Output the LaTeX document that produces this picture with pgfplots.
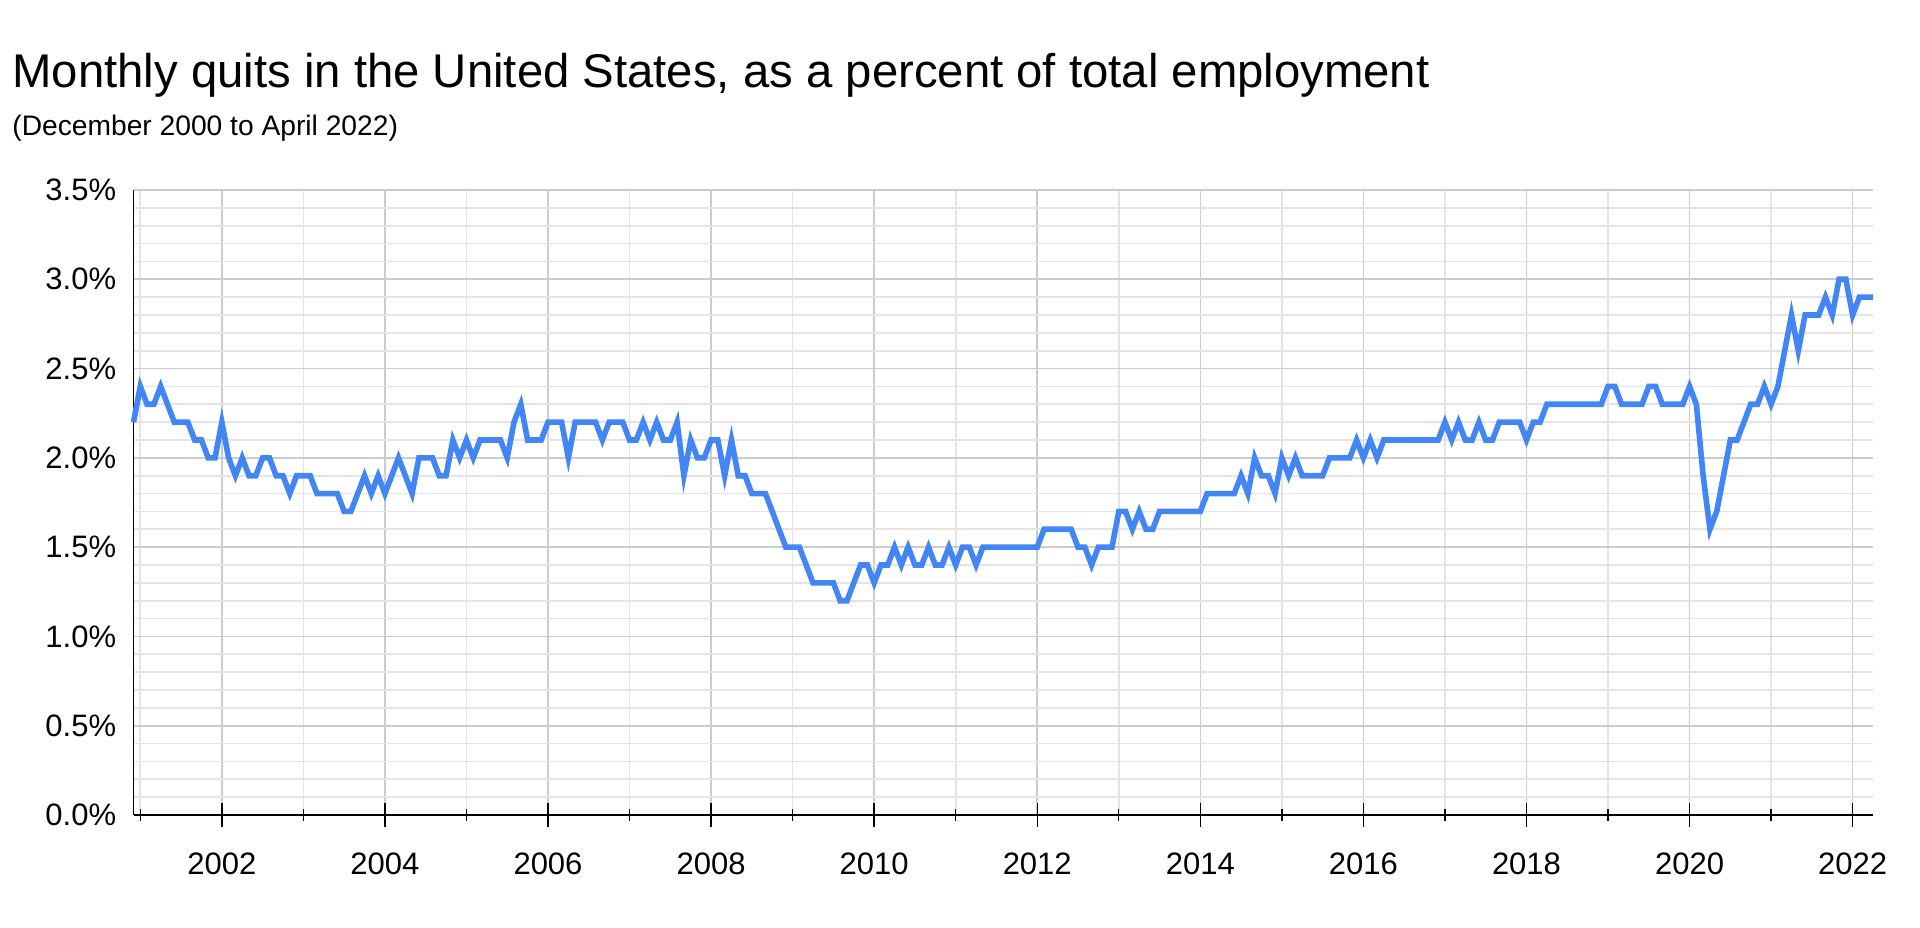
\documentclass[border=0pt]{standalone}
\usepackage{fontspec}
\setmainfont{Liberation Sans}
\setsansfont{Liberation Sans}
\usepackage{pgfplots}
\usepackage{pgfplotstable}
\pgfplotsset{compat=1.18}
\definecolor{quitblue}{HTML}{4285F4}
\definecolor{gridmaj}{HTML}{CCCCCC}
\definecolor{gridmin}{HTML}{E4E4E4}

% Monthly quits rate, Dec 2000 (row 0) to Apr 2022 (row 256)
\pgfplotstableread[row sep=\\]{
q\\
2.2\\
2.4\\2.3\\2.3\\2.4\\2.3\\2.2\\2.2\\2.2\\2.1\\2.1\\2.0\\2.0\\
2.2\\2.0\\1.9\\2.0\\1.9\\1.9\\2.0\\2.0\\1.9\\1.9\\1.8\\1.9\\
1.9\\1.9\\1.8\\1.8\\1.8\\1.8\\1.7\\1.7\\1.8\\1.9\\1.8\\1.9\\
1.8\\1.9\\2.0\\1.9\\1.8\\2.0\\2.0\\2.0\\1.9\\1.9\\2.1\\2.0\\
2.1\\2.0\\2.1\\2.1\\2.1\\2.1\\2.0\\2.2\\2.3\\2.1\\2.1\\2.1\\
2.2\\2.2\\2.2\\2.0\\2.2\\2.2\\2.2\\2.2\\2.1\\2.2\\2.2\\2.2\\
2.1\\2.1\\2.2\\2.1\\2.2\\2.1\\2.1\\2.2\\1.9\\2.1\\2.0\\2.0\\
2.1\\2.1\\1.9\\2.1\\1.9\\1.9\\1.8\\1.8\\1.8\\1.7\\1.6\\1.5\\
1.5\\1.5\\1.4\\1.3\\1.3\\1.3\\1.3\\1.2\\1.2\\1.3\\1.4\\1.4\\
1.3\\1.4\\1.4\\1.5\\1.4\\1.5\\1.4\\1.4\\1.5\\1.4\\1.4\\1.5\\
1.4\\1.5\\1.5\\1.4\\1.5\\1.5\\1.5\\1.5\\1.5\\1.5\\1.5\\1.5\\
1.5\\1.6\\1.6\\1.6\\1.6\\1.6\\1.5\\1.5\\1.4\\1.5\\1.5\\1.5\\
1.7\\1.7\\1.6\\1.7\\1.6\\1.6\\1.7\\1.7\\1.7\\1.7\\1.7\\1.7\\
1.7\\1.8\\1.8\\1.8\\1.8\\1.8\\1.9\\1.8\\2.0\\1.9\\1.9\\1.8\\
2.0\\1.9\\2.0\\1.9\\1.9\\1.9\\1.9\\2.0\\2.0\\2.0\\2.0\\2.1\\
2.0\\2.1\\2.0\\2.1\\2.1\\2.1\\2.1\\2.1\\2.1\\2.1\\2.1\\2.1\\
2.2\\2.1\\2.2\\2.1\\2.1\\2.2\\2.1\\2.1\\2.2\\2.2\\2.2\\2.2\\
2.1\\2.2\\2.2\\2.3\\2.3\\2.3\\2.3\\2.3\\2.3\\2.3\\2.3\\2.3\\
2.4\\2.4\\2.3\\2.3\\2.3\\2.3\\2.4\\2.4\\2.3\\2.3\\2.3\\2.3\\
2.4\\2.3\\1.9\\1.6\\1.7\\1.9\\2.1\\2.1\\2.2\\2.3\\2.3\\2.4\\
2.3\\2.4\\2.6\\2.8\\2.6\\2.8\\2.8\\2.8\\2.9\\2.8\\3.0\\3.0\\
2.8\\2.9\\2.9\\2.9\\
}\quits

\begin{document}
\begin{tikzpicture}
\path[use as bounding box] (0,0) rectangle (960pt,463.5pt);
\node[anchor=base west, inner sep=0pt, font=\fontsize{23.65}{28}\selectfont] at (6pt,419.5pt)
  {Monthly quits in the United States, as a percent of total employment};
\node[anchor=base west, inner sep=0pt, font=\fontsize{14.1}{17}\selectfont] at (6pt,395.5pt)
  {(December 2000 to April 2022)};
\begin{axis}[
  at={(66.75pt,56pt)}, anchor=south west,
  scale only axis,
  width=869.75pt, height=312.5pt,
  xmin=0, xmax=256,
  ymin=0, ymax=3.5,
  axis x line*=bottom, axis y line*=left,
  axis line style={black, line width=0.7pt, -},
  xtick={13,37,61,85,109,133,157,181,205,229,253},
  xticklabels={2002,2004,2006,2008,2010,2012,2014,2016,2018,2020,2022},
  minor xtick={1,25,49,73,97,121,145,169,193,217,241},
  ytick={0,0.5,1,1.5,2,2.5,3,3.5},
  yticklabels={0.0\%,0.5\%,1.0\%,1.5\%,2.0\%,2.5\%,3.0\%,3.5\%},
  minor ytick={0.1,0.2,0.3,0.4,0.6,0.7,0.8,0.9,1.1,1.2,1.3,1.4,1.6,1.7,1.8,1.9,2.1,2.2,2.3,2.4,2.6,2.7,2.8,2.9,3.1,3.2,3.3,3.4},
  grid=both,
  major grid style={draw=gridmaj, line width=0.8pt},
  minor grid style={draw=gridmin, line width=0.8pt},
  xtick align=center,
  major tick length=12pt, minor tick length=6pt,
  xtick style={black, line width=0.7pt},
  ytick style={draw=none},
  tick label style={font=\fontsize{15.5}{18}\selectfont},
  xticklabel style={anchor=north, inner sep=0pt, yshift=-12.5pt},
  yticklabel style={anchor=east, inner sep=0pt, xshift=-8.5pt},
  clip=false,
]
\addplot[quitblue, line width=2.8pt, line join=miter] table[x expr=\coordindex, y=q] {\quits};
\end{axis}
\end{tikzpicture}
\end{document}
